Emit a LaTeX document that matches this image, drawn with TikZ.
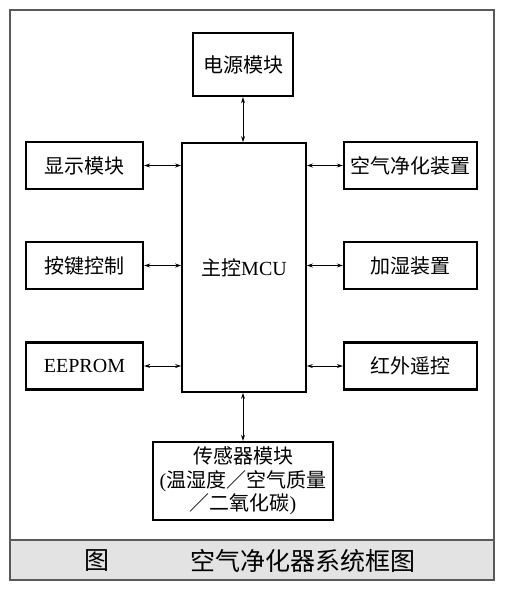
\documentclass[tikz,border=0pt]{standalone}
\usepackage{fontspec}
\setmainfont{Liberation Serif}
\newfontfamily\cjk{Noto Sans CJK SC}
\usetikzlibrary{arrows.meta}
\tikzset{
  blk/.style={draw,line width=2.4pt,minimum height=47pt,inner sep=0pt,
    font=\fontsize{20}{23.5}\selectfont},
  link/.style={{Stealth[length=6pt,width=4pt]}-{Stealth[length=6pt,width=4pt]},line width=0.9pt}
}

\begin{document}
\begin{tikzpicture}[x=1pt,y=-1pt]
  \useasboundingbox (0,0) rectangle (506,594);
  %% ---- frame and caption band ----
  \fill[gray!22] (10,540) rectangle (494,580);
  \draw[gray!70!black,line width=1.2pt] (10,10) rectangle (494,580);
  \draw[gray!70!black,line width=1.2pt] (10,540) -- (494,540);
  \node (fig) at (97,561) {\fontsize{25}{27}\selectfont\cjk 图};
  \node (title) at (303,561) {\fontsize{25}{27}\selectfont\cjk 空气净化器系统框图};

  %% ---- main controller ----
  \node[draw,line width=1.6pt,minimum width=124pt,minimum height=249pt,
    font=\fontsize{20}{23.5}\selectfont] (mcu) at (244,267.5) {{\cjk 主控}MCU};

  %% ---- top and bottom blocks ----
  \node[blk,minimum width=100pt,minimum height=63pt] (power) at (243,64.5) {\cjk 电源模块};
  \node[blk,minimum width=180pt,minimum height=78pt,align=center] (sensor) at (243,481)
    {{\cjk 传感器模块}\\({\cjk 温湿度／空气质量}\\{\cjk ／二氧化碳})};

  %% ---- left column ----
  \node[blk,minimum width=117pt] (display) at (84.5,165.5) {\cjk 显示模块};
  \node[blk,minimum width=117pt] (keys) at (84.5,265.5) {\cjk 按键控制};
  \node[blk,minimum width=117pt] (eeprom) at (84.5,366) {EEPROM};

  %% ---- right column ----
  \node[blk,minimum width=133pt] (purifier) at (410.5,165.5) {\cjk 空气净化装置};
  \node[blk,minimum width=133pt] (humid) at (410.5,265.5) {\cjk 加湿装置};
  \node[blk,minimum width=133pt] (ir) at (410.5,366) {\cjk 红外遥控};

  %% ---- links ----
  \draw[link] (power.south) -- (power.south |- mcu.north);
  \draw[link] (sensor.north |- mcu.south) -- (sensor.north);
  \foreach \b in {display,keys,eeprom}
    \draw[link] (\b.east) -- (\b.east -| mcu.west);
  \foreach \b in {purifier,humid,ir}
    \draw[link] (\b.east -| mcu.east) -- (\b.west);
\end{tikzpicture}
\end{document}
